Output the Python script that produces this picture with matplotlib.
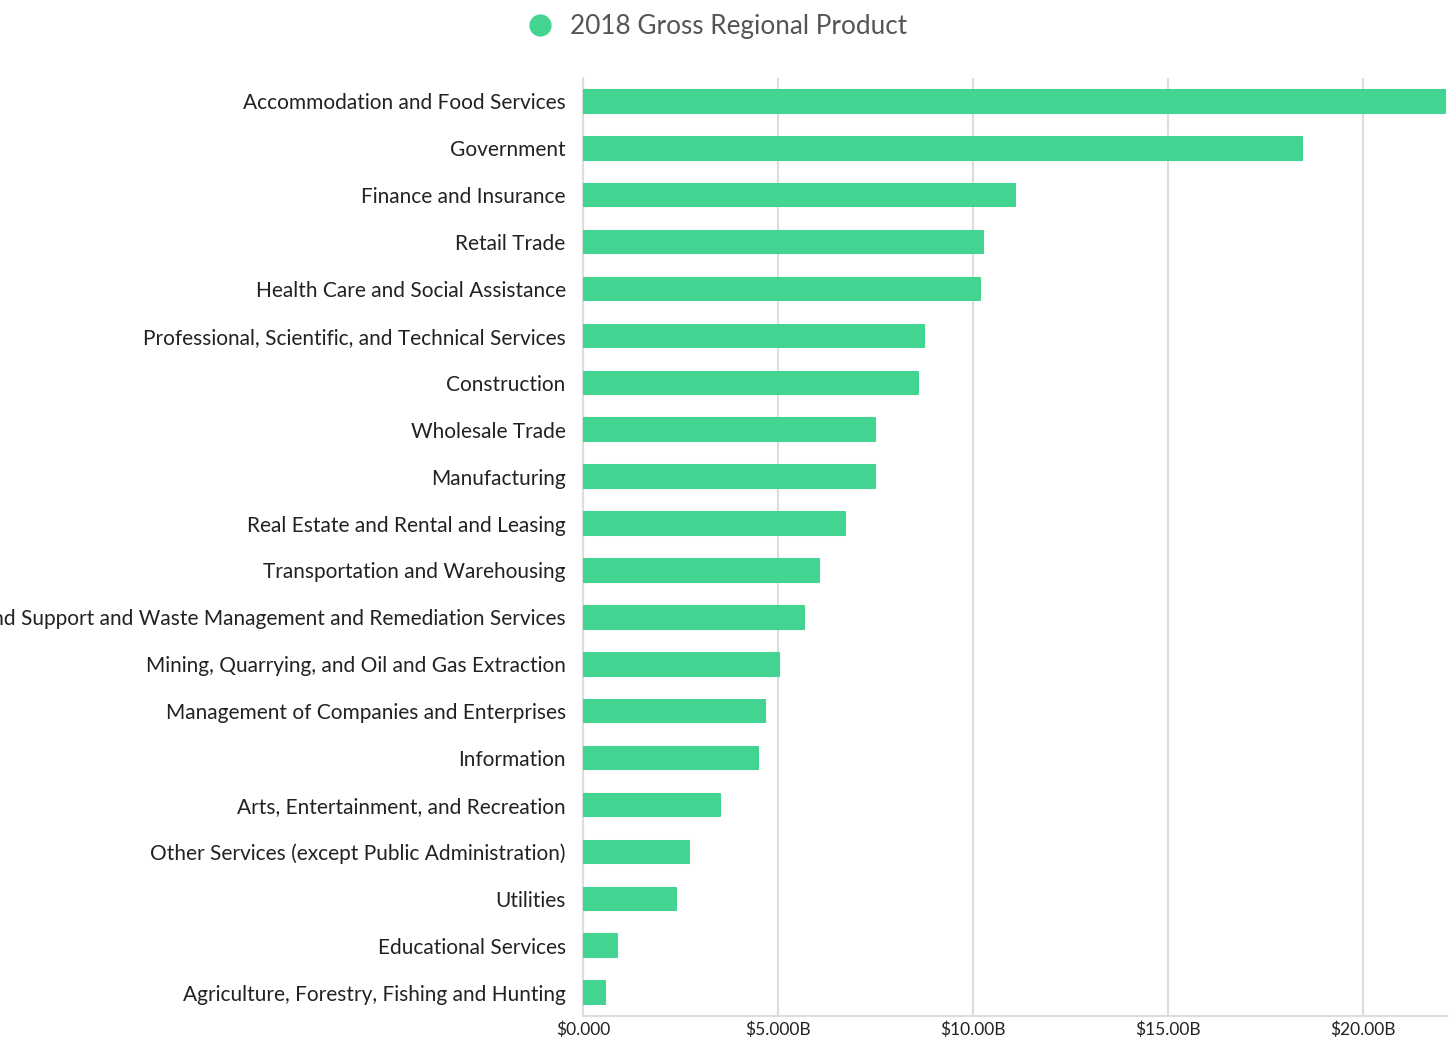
import matplotlib
matplotlib.use('Agg')
import matplotlib.pyplot as plt
from matplotlib.lines import Line2D
from matplotlib.ticker import FuncFormatter

# GRP by industry, billions of dollars
industries = [
    'Accommodation and Food Services',
    'Government',
    'Finance and Insurance',
    'Retail Trade',
    'Health Care and Social Assistance',
    'Professional, Scientific, and Technical Services',
    'Construction',
    'Wholesale Trade',
    'Manufacturing',
    'Real Estate and Rental and Leasing',
    'Transportation and Warehousing',
    'Administrative and Support and Waste Management and Remediation Services',
    'Mining, Quarrying, and Oil and Gas Extraction',
    'Management of Companies and Enterprises',
    'Information',
    'Arts, Entertainment, and Recreation',
    'Other Services (except Public Administration)',
    'Utilities',
    'Educational Services',
    'Agriculture, Forestry, Fishing and Hunting',
]
grp_2018 = [22.1, 18.44, 11.08, 10.26, 10.18, 8.74, 8.59, 7.49, 7.48, 6.72,
            6.05, 5.67, 5.03, 4.67, 4.49, 3.51, 2.72, 2.38, 0.87, 0.56]
xticks = [0, 5, 10, 15, 20]

green = '#44D492'
grid_c = '#DDDDDD'

plt.rcParams['font.family'] = ['Lato', 'DejaVu Sans']

fig = plt.figure(figsize=(14.55, 10.44), dpi=100)
ax = fig.add_axes([0.4007, 0.0268, 0.5938, 0.8985])

ypos = list(range(len(industries)))
ax.barh(ypos, grp_2018, height=0.48, color=green, edgecolor=green,
        linewidth=1.5, joinstyle='round', zorder=3)

ax.set_ylim(len(industries) - 0.5, -0.5)
ax.set_xlim(0, 22.15)
ax.set_yticks(ypos)
ax.set_yticklabels(industries, fontsize=15, color='#222222')
ax.set_xticks(xticks)


def fmt(v, pos):
    if v == 0:
        return '$0.000'
    if v < 10:
        return '${:.3f}B'.format(v)
    return '${:.2f}B'.format(v)


ax.xaxis.set_major_formatter(FuncFormatter(fmt))
ax.tick_params(axis='x', labelsize=12.5, colors='#222222', length=0, pad=4)
ax.tick_params(axis='y', length=0, pad=12.5)

ax.grid(axis='x', color=grid_c, linewidth=1.5, zorder=0)
for side in ['top', 'right']:
    ax.spines[side].set_visible(False)
for side in ['left', 'bottom']:
    ax.spines[side].set_color(grid_c)
    ax.spines[side].set_linewidth(1.5)

handle = Line2D([], [], marker='o', linestyle='', markersize=15,
                markerfacecolor=green, markeredgecolor=green)
leg = fig.legend([handle], ['2018 Gross Regional Product'], loc='upper center',
                 bbox_to_anchor=(0.488, 1.009), frameon=False, fontsize=18.8,
                 handletextpad=0.15)
for t in leg.get_texts():
    t.set_color('#555555')

fig.savefig('out.png', dpi=100)
